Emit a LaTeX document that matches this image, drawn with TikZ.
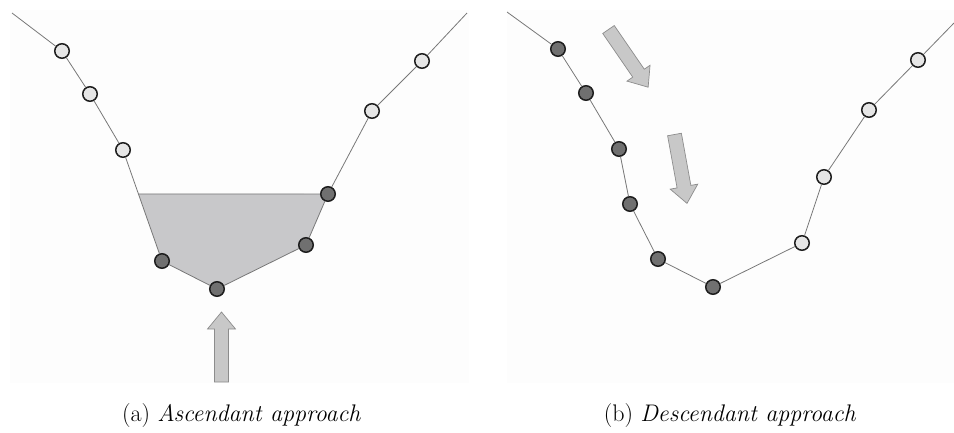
\documentclass[tikz,border=0pt]{standalone}
\usepackage{fontspec}
\usetikzlibrary{calc}
\definecolor{bgpanel}{RGB}{253,253,253}
\definecolor{lightpt}{RGB}{230,230,230}
\definecolor{darkpt}{RGB}{112,112,112}
\definecolor{ptborder}{RGB}{30,30,30}
\definecolor{shadecol}{RGB}{200,200,202}
\definecolor{arrowfill}{RGB}{200,200,200}
\definecolor{arrowdraw}{RGB}{140,140,140}
\definecolor{curvecol}{RGB}{120,120,120}
\tikzset{
  pt/.style={circle, draw=ptborder, line width=1.5pt, minimum size=14.5pt, inner sep=0pt},
  lpt/.style={pt, fill=lightpt},
  dpt/.style={pt, fill=darkpt},
  curve/.style={draw=curvecol, line width=0.8pt},
  arrowbody/.style={fill=arrowfill, draw=arrowdraw, line width=0.7pt, line join=miter},
  captxt/.style={anchor=base, inner sep=0pt, font=\fontsize{24}{28}\selectfont},
  blockarrow/.pic={\path[arrowbody] (0,-7) -- (53,-7) -- (53,-14) -- (70,0) -- (53,14) -- (53,7) -- (0,7) -- cycle;}
}
\begin{document}
\begin{tikzpicture}[x=1pt, y=-1pt]
\useasboundingbox (0,0) rectangle (954,432);
% panel backgrounds
\fill[bgpanel] (10,10) rectangle (469,383);
\fill[bgpanel] (507,10) rectangle (954,383);

% ---------- panel (a) ----------
\coordinate (sa) at (12,13);
\coordinate (ea) at (467,13);
\coordinate (ca1) at (62,51);
\coordinate (ca2) at (90,94);
\coordinate (ca3) at (123,150);
\coordinate (ca4) at (162,261);
\coordinate (ca5) at (217,289);
\coordinate (ca6) at (306,245);
\coordinate (ca7) at (328,194);
\coordinate (ca8) at (372,111);
\coordinate (ca9) at (422,61);
\coordinate (ak) at ($(ca3)!0.396!(ca4)$);

\fill[shadecol] (ak) -- (ca4) -- (ca5) -- (ca6) -- (ca7) -- cycle;

\node[lpt] (a1) at (ca1) {};
\node[lpt] (a2) at (ca2) {};
\node[lpt] (a3) at (ca3) {};
\node[dpt] (a4) at (ca4) {};
\node[dpt] (a5) at (ca5) {};
\node[dpt] (a6) at (ca6) {};
\node[dpt] (a7) at (ca7) {};
\node[lpt] (a8) at (ca8) {};
\node[lpt] (a9) at (ca9) {};

\draw[curve] (sa) -- (a1) -- (a2) -- (a3) -- (a4) -- (a5) -- (a6) -- (a7) -- (a8) -- (a9) -- (ea);
\draw[curve] (ak) -- (a7);

\pic[rotate=90] at (221.5,382) {blockarrow};

\node[captxt] (capa) at (241.5,421) {(a) \textit{Ascendant approach}};

% ---------- panel (b) ----------
\coordinate (sb) at (507,12);
\coordinate (eb) at (954,23);
\node[dpt] (b1) at (558,49) {};
\node[dpt] (b2) at (586,93) {};
\node[dpt] (b3) at (619,149) {};
\node[dpt] (b4) at (630,204) {};
\node[dpt] (b5) at (658,259) {};
\node[dpt] (b6) at (713,287) {};
\node[lpt] (b7) at (802,243) {};
\node[lpt] (b8) at (824,177) {};
\node[lpt] (b9) at (869,110) {};
\node[lpt] (b10) at (918,60) {};

\draw[curve] (sb) -- (b1) -- (b2) -- (b3) -- (b4) -- (b5) -- (b6) -- (b7) -- (b8) -- (b9) -- (b10) -- (eb);

\pic[rotate=-55.5] at (608.5,29.5) {blockarrow};
\pic[rotate=-79.7] at (674.5,134.5) {blockarrow};

\node[captxt] (capb) at (730,421) {(b) \textit{Descendant approach}};
\end{tikzpicture}
\end{document}
